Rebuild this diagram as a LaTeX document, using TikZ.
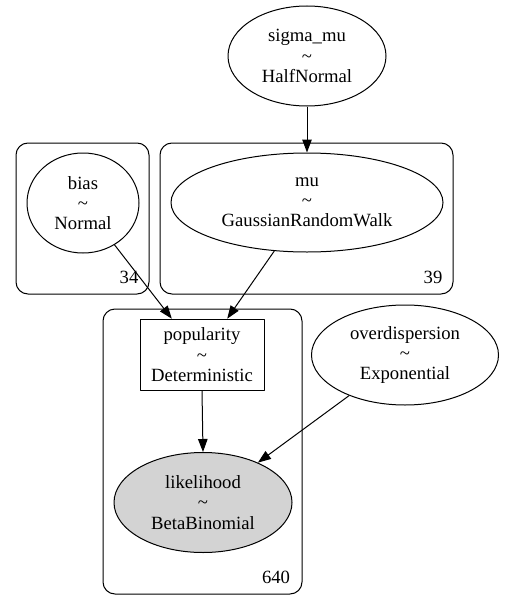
\documentclass[tikz,border=0pt]{standalone}
\usepackage{fontspec}
\setmainfont{Liberation Serif}
\usepackage{tikz}
\usetikzlibrary{arrows.meta,shapes.geometric}
\definecolor{obsgray}{HTML}{D3D3D3}

\begin{document}
\begin{tikzpicture}[
    x=1pt,
    y=-1pt,
    every path/.style={line join=round},
    font=\fontsize{18.67}{20.2}\selectfont,
    plate/.style={draw,line width=1pt,rounded corners=12pt},
    rv/.style={draw,ellipse,line width=1pt,inner sep=0pt,align=center},
    det/.style={draw,rectangle,line width=1pt,inner sep=0pt,align=center},
    obs/.style={rv,fill=obsgray},
    platenum/.style={inner sep=0pt},
    edge/.style={line width=1pt,-{Triangle[length=13pt,width=9.5pt]}}
  ]
    \useasboundingbox (0,0) rectangle (504,610);

    % Plates and their sizes.
    \draw[plate] (16,143) rectangle (149,294);
    \draw[plate] (160,143) rectangle (453,294);
    \draw[plate] (103,309) rectangle (302,594);
    \node[platenum] (biasn) at (129,277.5) {34};
    \node[platenum] (mun) at (433,277.5) {39};
    \node[platenum] (popn) at (276,577.5) {640};

    % Random variables.
    \node[rv,minimum width=158pt,minimum height=100pt] (sigma) at (307,56)
      {sigma\_mu\\\textasciitilde\\HalfNormal};
    \node[rv,minimum width=112pt,minimum height=100pt] (bias) at (83,203)
      {bias\\\textasciitilde\\Normal};
    \node[rv,minimum width=272pt,minimum height=99pt] (mu) at (307,202.5)
      {mu\\\textasciitilde\\GaussianRandomWalk};
    \node[det,minimum width=124pt,minimum height=71pt] (pop) at (202,354.7)
      {popularity\\\textasciitilde\\Deterministic};
    \node[rv,minimum width=187pt,minimum height=100pt] (overdisp) at (405,355)
      {overdispersion\\\textasciitilde\\Exponential};
    \node[obs,minimum width=178pt,minimum height=100pt] (lik) at (203,502.5)
      {likelihood\\\textasciitilde\\BetaBinomial};

    % Dependencies.
    \draw[edge] (sigma.south) -- (mu.north);
    \draw[edge] (bias.-53) -- (pop.130);
    \draw[edge] (mu.-124) -- (pop.55);
    \draw[edge] (pop.south) -- (lik.north);
    \draw[edge] (overdisp.-144) -- (lik.36);
  \end{tikzpicture}
\end{document}
